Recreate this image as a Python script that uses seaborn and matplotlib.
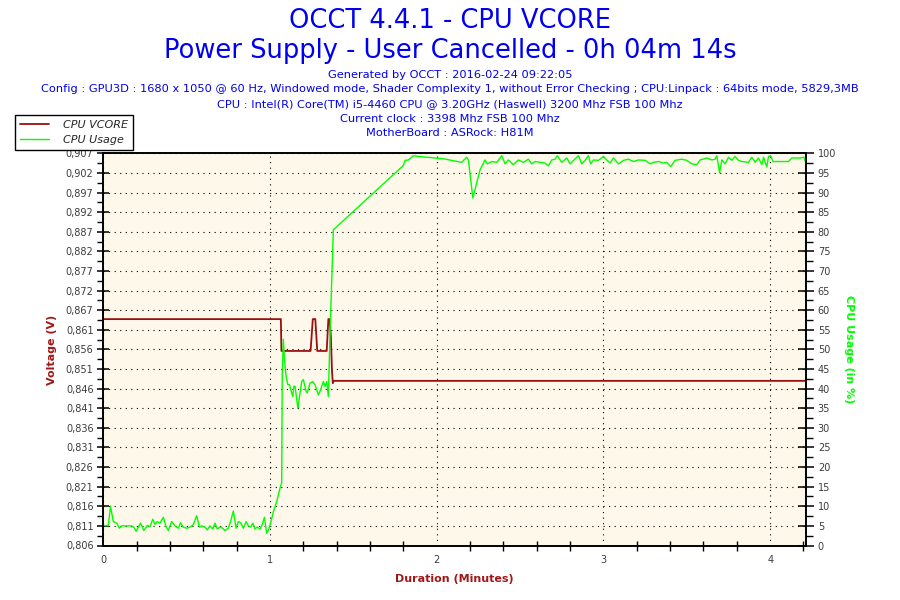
import numpy as np
import pandas as pd
import matplotlib
matplotlib.use("Agg")
import matplotlib.pyplot as plt
import seaborn as sns
from matplotlib.lines import Line2D
from matplotlib.ticker import AutoMinorLocator, MultipleLocator, FixedLocator

# Points (time in seconds)
vcore_sec = [0, 63.9, 64.1, 74.6, 75.4, 76.3, 77.0, 80.4, 81.0, 81.4,
             81.9, 82.3, 82.6, 82.9, 252.9]
vcore_volt = [0.8643, 0.8643, 0.8561, 0.8561, 0.8643, 0.8643, 0.8561, 0.8561, 0.8643, 0.8643,
              0.8600, 0.8510, 0.8478, 0.8484, 0.8484]

usage_sec = [0, 1.8, 2.6, 3.6, 4.8, 5.8, 6.6, 8.4, 10.2, 11.0, 11.8, 13.4, 14.6, 15.8, 16.8,
             17.8, 18.6, 19.4, 20.4, 21.6, 22.6, 23.4, 24.6, 25.8, 27.0, 27.8, 28.8, 30.0,
             31.2, 32.4, 33.6, 34.6, 35.4, 36.6, 37.4, 38.4, 39.4, 40.2, 41.0, 42.0, 43.0,
             43.8, 45.0, 45.8, 46.8, 47.8, 48.6, 49.4, 50.4, 51.4, 52.2, 53.0, 53.8, 54.6,
             55.4, 56.4, 57.2, 58.0, 58.8, 59.6, 60.2, 61.2, 62.4, 63.6, 64.2,
             64.4, 64.8, 65.2, 65.8, 66.4, 67.0, 67.8, 68.2, 68.6, 69.0, 69.8, 70.0, 70.6,
             71.4, 72.0, 73.0, 73.4, 74.4, 75.4, 76.2, 77.4, 78.0, 79.2, 79.8, 80.4, 81.0,
             81.6, 82.6, 82.8,
             108.0, 108.6, 109.8, 111.6, 113.4, 116.4, 119.4, 122.4, 125.4, 129.0, 130.8,
             131.4, 133.0, 135.6, 137.4, 138.2, 139.8, 141.6, 142.8, 143.4, 144.6, 145.8,
             147.6, 149.4, 151.2, 153.0, 154.2, 155.4, 157.2, 159.0, 160.2, 161.4, 162.6,
             163.4, 165.0, 166.8, 168.0, 171.0, 172.2, 173.4, 174.6, 175.4, 176.4, 178.2,
             180.0, 181.2, 182.4, 183.6, 185.4, 187.2, 189.0, 190.8, 192.6, 195.0, 196.8,
             198.0, 199.8, 201.6, 202.8, 204.2, 205.8, 208.2, 210.0, 211.8, 213.6, 214.8,
             217.2, 219.0, 220.2, 220.8, 221.8, 222.6, 223.8, 225.0, 226.2, 227.4, 228.6,
             229.8, 232.2, 233.4, 234.6, 235.8, 237.0, 237.6, 238.8, 239.4, 240.2, 241.0,
             243.6, 246.6, 247.8, 249.0, 250.8, 252.2, 252.9]
usage_pct = [5.1, 5.1, 10.0, 6.1, 5.7, 4.4, 5.0, 5.0, 5.0, 4.7, 3.6, 5.7, 3.8, 5.1, 4.8,
             6.7, 5.4, 6.1, 5.7, 7.2, 4.8, 3.8, 6.1, 5.0, 4.4, 5.8, 4.7, 4.4,
             4.7, 5.3, 7.6, 4.7, 5.0, 4.7, 4.0, 5.0, 4.2, 5.7, 4.2, 4.7, 4.4,
             3.8, 4.4, 6.1, 8.8, 4.4, 6.1, 5.8, 4.4, 6.1, 5.0, 4.7, 5.7, 4.2,
             4.7, 4.2, 5.3, 7.2, 3.1, 4.2, 5.7, 8.6, 11.2, 14.6, 16.0,
             43.1, 52.6, 47.4, 43.1, 41.0, 41.0, 38.9, 38.0, 40.6, 40.6, 36.3, 35.0, 38.0,
             41.8, 42.3, 39.3, 38.9, 41.4, 41.8, 41.0, 38.4, 39.3, 41.8, 40.6, 41.8, 38.0,
             54.2, 76.3, 80.5,
             96.9, 98.2, 98.3, 99.4, 99.2, 99.0, 98.8, 98.6, 98.2, 97.7, 99.0,
             98.3, 88.6, 95.8, 98.3, 97.3, 97.9, 97.7, 98.8, 99.4, 97.3, 98.3,
             97.1, 98.3, 97.7, 98.5, 97.3, 97.9, 97.7, 97.5, 96.8, 98.3, 98.5,
             99.4, 97.7, 98.8, 97.3, 99.4, 97.3, 98.2, 99.4, 97.3, 98.3, 98.2,
             99.2, 98.3, 97.5, 98.8, 97.3, 98.2, 98.5, 97.9, 98.3, 98.2, 97.3,
             97.7, 97.9, 97.5, 97.7, 96.6, 98.2, 98.5, 98.2, 97.3, 97.1, 98.3,
             98.8, 98.3, 98.5, 99.4, 95.0, 98.3, 97.3, 99.0, 98.2, 99.2, 98.2,
             97.9, 97.7, 99.0, 97.7, 98.8, 97.1, 99.0, 96.5, 99.2, 99.4, 97.9,
             97.9, 97.9, 98.8, 98.8, 98.8, 99.0, 97.3]

volt_labels = ['0,806', '0,811', '0,816', '0,821', '0,826', '0,831', '0,836', '0,841',
               '0,846', '0,851', '0,856', '0,861', '0,867', '0,872', '0,877', '0,882',
               '0,887', '0,892', '0,897', '0,902', '0,907']
usage_ticks = list(range(0, 101, 5))
minute_ticks = [0, 1, 2, 3, 4]

title_lines = ['OCCT 4.4.1 - CPU VCORE', 'Power Supply - User Cancelled - 0h 04m 14s']
info_lines = ['Generated by OCCT : 2016-02-24 09:22:05',
              'Config : GPU3D : 1680 x 1050 @ 60 Hz, Windowed mode, Shader Complexity 1, '
              'without Error Checking ; CPU:Linpack : 64bits mode, 5829,3MB',
              'CPU : Intel(R) Core(TM) i5-4460 CPU @ 3.20GHz (Haswell) 3200 Mhz FSB 100 Mhz',
              'Current clock : 3398 Mhz FSB 100 Mhz',
              'MotherBoard : ASRock: H81M']

RED = '#9a1010'
LABEL_RED = '#a01818'
GREEN = '#00ff00'
BLUE = '#0000ee'
TICK = '#3c3c3c'

sns.set_style("white")
plt.rcParams['font.family'] = ['DejaVu Sans']

vcore = pd.DataFrame({'minutes': np.array(vcore_sec) / 60, 'volt': vcore_volt})
usage = pd.DataFrame({'minutes': np.array(usage_sec) / 60, 'pct': usage_pct})

fig = plt.figure(figsize=(9, 6), dpi=100)
ax = fig.add_axes([103.3 / 900, 1 - 545.5 / 600, (806 - 103.3) / 900, (545.5 - 153.3) / 600])
ax.set_facecolor('#fdf8ea')
ax2 = ax.twinx()

sns.lineplot(data=vcore, x='minutes', y='volt', ax=ax, color=RED, linewidth=1.3,
             estimator=None, sort=False, legend=False)
sns.lineplot(data=usage, x='minutes', y='pct', ax=ax2, color=GREEN, linewidth=1.0,
             estimator=None, sort=False, legend=False)

ax.set_xlim(0, 4.215)
ax.set_ylim(0.806, 0.907)
ax2.set_ylim(0, 100)

ax.yaxis.set_major_locator(FixedLocator(np.linspace(0.806, 0.907, len(volt_labels))))
ax.set_yticklabels(volt_labels)
ax.yaxis.set_minor_locator(AutoMinorLocator(2))
ax.set_xticks(minute_ticks)
ax.set_xticklabels([str(m) for m in minute_ticks])
ax.xaxis.set_minor_locator(MultipleLocator(0.2))
ax2.set_yticks(usage_ticks)
ax2.set_yticklabels([str(u) for u in usage_ticks])
ax2.yaxis.set_minor_locator(AutoMinorLocator(2))

ax.grid(True, which='major', color='black', linestyle=(0, (1, 4)), linewidth=0.8)
ax2.grid(False)

ax.tick_params(axis='y', which='major', direction='inout', length=8, width=1.1,
               colors='black', labelcolor=TICK, labelsize=7, pad=3)
ax.tick_params(axis='y', which='minor', direction='out', length=4, width=1.0, colors='black',
               left=True)
ax.tick_params(axis='x', which='major', direction='inout', length=10, width=1.1,
               colors='black', labelcolor=TICK, labelsize=7, pad=2)
ax.tick_params(axis='x', which='minor', direction='inout', length=7, width=1.0,
               colors='black', bottom=True)
ax2.tick_params(axis='y', which='major', direction='inout', length=11, width=1.1,
                colors='black', labelcolor=TICK, labelsize=7, pad=3)
ax2.tick_params(axis='y', which='minor', direction='out', length=5, width=1.0,
                colors='black', right=True)

for a in (ax, ax2):
    for s in a.spines.values():
        s.set_color('black')
        s.set_linewidth(1.2)

ax.set_xlabel('Duration (Minutes)', color=LABEL_RED, fontweight='bold', fontsize=8, labelpad=6)
ax.set_ylabel('Voltage (V)', color=LABEL_RED, fontweight='bold', fontsize=8, labelpad=6)
ax2.set_ylabel('CPU Usage (in %)', color=GREEN, fontweight='bold', fontsize=8,
               rotation=270, labelpad=13)

fig.text(0.5, 1 - 21 / 600, title_lines[0], ha='center', va='center', color=BLUE, fontsize=18.5)
fig.text(0.5, 1 - 51 / 600, title_lines[1], ha='center', va='center', color=BLUE, fontsize=18.5)
for i, line in enumerate(info_lines):
    fig.text(0.5, 1 - (75 + 14.5 * i) / 600, line, ha='center', va='center',
             color=BLUE, fontsize=8.2)

handles = [Line2D([], [], color=RED, linewidth=1.3), Line2D([], [], color=GREEN, linewidth=1.0)]
leg = fig.legend(handles, ['CPU VCORE', 'CPU Usage'], loc='upper left',
                 bbox_to_anchor=(15 / 900, 1 - 115 / 600), frameon=True, fancybox=False,
                 edgecolor='black', framealpha=1, prop={'style': 'italic', 'size': 8},
                 handlelength=2.6, borderpad=0.45, labelspacing=0.45, borderaxespad=0,
                 handletextpad=1.3)
leg.get_frame().set_linewidth(1.0)

fig.savefig('out.png', dpi=100)
